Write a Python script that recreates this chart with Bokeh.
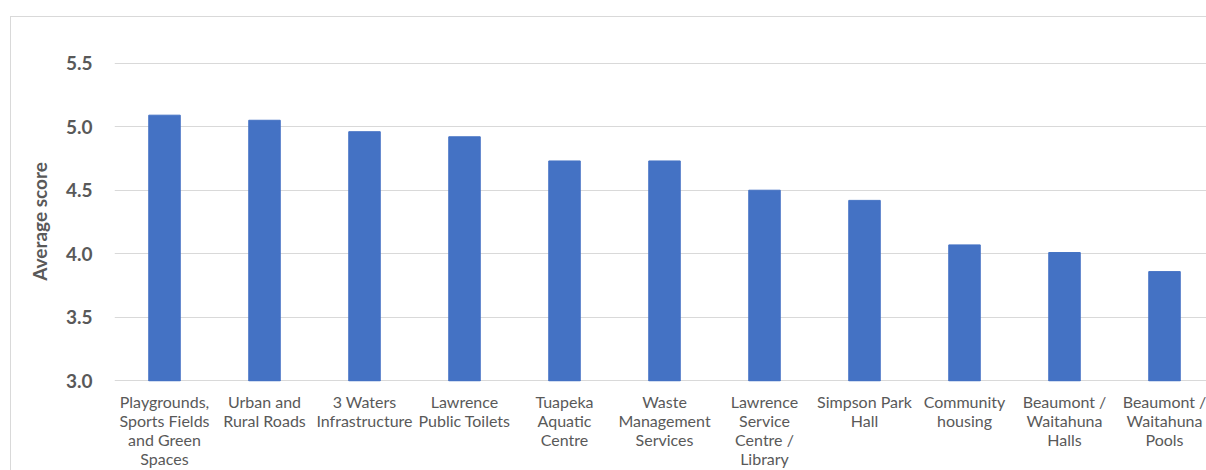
from bokeh.plotting import figure
from bokeh.models import Range1d, FixedTicker
from bokeh.embed import file_html
from bokeh.resources import INLINE

categories = [
    "Playgrounds,\nSports Fields\nand Green\nSpaces",
    "Urban and\nRural Roads",
    "3 Waters\nInfrastructure",
    "Lawrence\nPublic Toilets",
    "Tuapeka\nAquatic\nCentre",
    "Waste\nManagement\nServices",
    "Lawrence\nService\nCentre /\nLibrary",
    "Simpson Park\nHall",
    "Community\nhousing",
    "Beaumont /\nWaitahuna\nHalls",
    "Beaumont /\nWaitahuna\nPools",
]
scores = [5.09, 5.05, 4.96, 4.92, 4.73, 4.73, 4.50, 4.42, 4.07, 4.01, 3.86]
y_ticks = [3.0, 3.5, 4.0, 4.5, 5.0, 5.5]
y_tick_labels = ["3.0", "3.5", "4.0", "4.5", "5.0", "5.5"]

FONT = "Lato"
TEXT = "#595959"
GRID = "#d9d9d9"

xs = list(range(len(categories)))

p = figure(
    width=1195, height=453,
    output_backend="svg", toolbar_location=None,
    x_range=Range1d(-0.5, 10.42), y_range=Range1d(2.996, 5.512),
    min_border_left=103, min_border_right=0, min_border_top=44, min_border_bottom=88,
)
p.styles = {"margin-left": "11px", "margin-top": "17px", "outline": "1px solid #d9d9d9"}
p.outline_line_color = None
p.background_fill_color = "white"
p.border_fill_color = "white"

p.vbar(x=xs, top=scores, bottom=3.0, width=0.315, color="#4472C4")

# x axis
p.xaxis.ticker = FixedTicker(ticks=xs)
p.xaxis.major_label_overrides = {i: c for i, c in zip(xs, categories)}
p.xaxis.axis_line_color = None
p.xaxis.major_tick_line_color = None
p.xaxis.minor_tick_line_color = None
p.xaxis.major_label_standoff = 4
p.xaxis.major_label_text_font = FONT
p.xaxis.major_label_text_font_size = "16px"
p.xaxis.major_label_text_color = TEXT
p.xaxis.major_label_text_line_height = 1.0
p.xgrid.grid_line_color = None

# y axis
p.yaxis.ticker = FixedTicker(ticks=y_ticks)
p.yaxis.major_label_overrides = {t: l for t, l in zip(y_ticks, y_tick_labels)}
p.yaxis.axis_line_color = None
p.yaxis.major_tick_line_color = None
p.yaxis.minor_tick_line_color = None
p.yaxis.major_label_standoff = 16
p.yaxis.major_label_text_font = FONT
p.yaxis.major_label_text_font_size = "19px"
p.yaxis.major_label_text_font_style = "bold"
p.yaxis.major_label_text_color = TEXT
p.yaxis.axis_label = "Average score"
p.yaxis.axis_label_text_font = FONT
p.yaxis.axis_label_text_font_size = "19px"
p.yaxis.axis_label_text_font_style = "bold"
p.yaxis.axis_label_text_color = TEXT
p.yaxis.axis_label_standoff = 12
p.ygrid.grid_line_color = GRID
p.ygrid.grid_line_width = 1

open("out.html", "w").write(file_html(p, INLINE))
